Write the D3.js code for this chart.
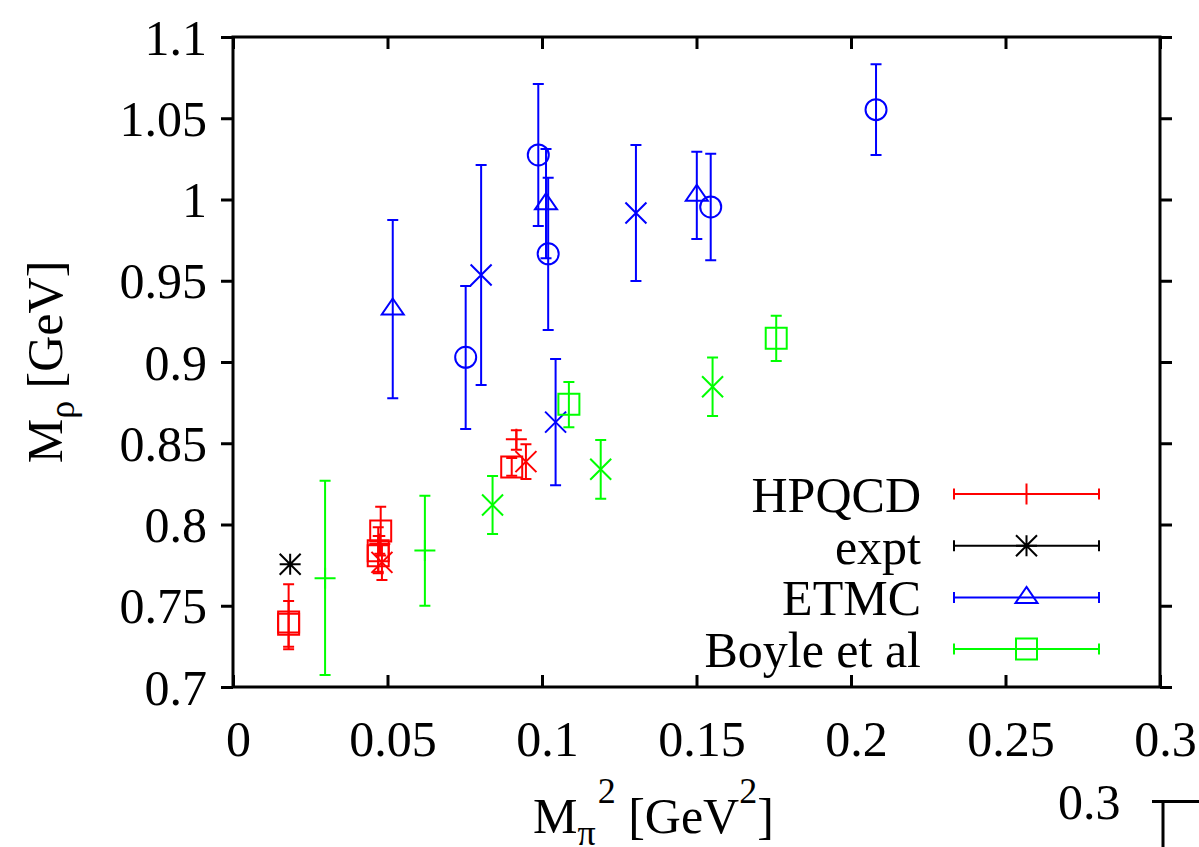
<!DOCTYPE html>
<html><head><meta charset="utf-8">
<script src="https://cdn.jsdelivr.net/npm/d3@7"></script>
<style>body{margin:0;background:#fff}svg{display:block}</style>
</head><body><svg id="c" width="1199" height="847"></svg>
<script>
const xTicks=[0,0.05,0.1,0.15,0.2,0.25,0.3];
const yTicks=[0.7,0.75,0.8,0.85,0.9,0.95,1,1.05,1.1];
const xTickLabels=["0","0.05","0.1","0.15","0.2","0.25","0.3"];
const yTickLabels=["0.7","0.75","0.8","0.85","0.9","0.95","1","1.05","1.1"];
// each point: [x, y, yLow, yHigh]
const hpqcdPlus=[[0.0475,0.788,0.782,0.793],[0.0917,0.8524,0.846,0.858]];
const hpqcdSquare=[[0.0180,0.7400,0.7248,0.7632],[0.0180,0.7386,0.7232,0.7529],[0.0478,0.7960,0.7810,0.8110],[0.0470,0.7839,0.7710,0.7983],[0.0470,0.7808,0.7700,0.7930],[0.0902,0.8354,0.8300,0.8410]];
const hpqcdCross=[[0.0482,0.7767,0.7658,0.7880],[0.0948,0.8387,0.8280,0.8494]];
const exptStar=[[0.0185,0.7755,0.7755,0.7755]];
const etmcTriangle=[[0.0517,0.9326,0.8777,0.9874],[0.1013,0.9974,0.9638,1.0311],[0.1501,1.0026,0.9757,1.0294]];
const etmcCircle=[[0.0753,0.9029,0.8588,0.9468],[0.0988,1.0274,0.9837,1.0711],[0.1020,0.9666,0.9197,1.0134],[0.1546,0.9954,0.9626,1.0282],[0.2081,1.0553,1.0274,1.0832]];
const etmcCross=[[0.0803,0.9535,0.8858,1.0212],[0.1044,0.8630,0.8241,0.9018],[0.1304,0.9917,0.9498,1.0335]];
const boylePlus=[[0.0298,0.7670,0.7074,0.8270],[0.0621,0.7840,0.7500,0.8177]];
const boyleCross=[[0.0840,0.8120,0.7942,0.8298],[0.1190,0.8340,0.8159,0.8520],[0.1552,0.8848,0.8668,0.9027]];
const boyleSquare=[[0.1087,0.8740,0.8598,0.8877],[0.1758,0.9146,0.9006,0.9285]];
const legendLabels=["HPQCD","expt","ETMC","Boyle et al"];
const legendColors=["#ff0000","#000000","#0000ff","#00ff00"];
const legendShapes=["plus","star","triangle","square"];

const svg=d3.select("#c");
const FONT="'Liberation Serif','Times New Roman',serif";
const x=d3.scaleLinear().domain([0,0.3]).range([233,1160]);
const y=d3.scaleLinear().domain([0.7,1.1]).range([687,37]);

svg.append("rect").attr("width",1199).attr("height",847).attr("fill","#fff");

function styleAxis(g){
  g.select(".domain").remove();
  g.selectAll("line").attr("stroke","#000").attr("stroke-width",3);
  g.selectAll("text").attr("font-family",FONT).attr("font-size",50).attr("fill","#000");
}
// bottom axis (ticks inward)
const gb=svg.append("g").attr("transform","translate(0,687)")
  .call(d3.axisBottom(x).tickValues(xTicks).tickFormat((d,i)=>xTickLabels[i]).tickSize(12));
styleAxis(gb);
gb.selectAll("line").attr("y2",-12);
gb.selectAll("text").attr("y",69).attr("dy",0).attr("dx",5);
// top axis (ticks inward, no labels)
const gt=svg.append("g").attr("transform","translate(0,37)")
  .call(d3.axisTop(x).tickValues(xTicks).tickFormat("").tickSize(12));
styleAxis(gt);
gt.selectAll("line").attr("y2",12);
// left axis (outward)
const gl=svg.append("g").attr("transform","translate(233,0)")
  .call(d3.axisLeft(y).tickValues(yTicks).tickFormat((d,i)=>yTickLabels[i]).tickSize(12).tickPadding(14));
styleAxis(gl);
gl.selectAll("text").attr("dy","0.34em");
// right axis (outward)
const gr=svg.append("g").attr("transform","translate(1160,0)")
  .call(d3.axisRight(y).tickValues(yTicks).tickFormat("").tickSize(12));
styleAxis(gr);
// frame
svg.append("rect").attr("x",233).attr("y",37).attr("width",927).attr("height",650)
  .attr("fill","none").attr("stroke","#000").attr("stroke-width",3);

// marker paths
const R=10.5;
function markerPath(shape,cx,cy){
  switch(shape){
    case "plus": return `M${cx-R},${cy}H${cx+R}M${cx},${cy-R}V${cy+R}`;
    case "cross": return `M${cx-R},${cy-R}L${cx+R},${cy+R}M${cx-R},${cy+R}L${cx+R},${cy-R}`;
    case "star": return `M${cx-R},${cy}H${cx+R}M${cx},${cy-R}V${cy+R}M${cx-R},${cy-R}L${cx+R},${cy+R}M${cx-R},${cy+R}L${cx+R},${cy-R}`;
    case "square": return `M${cx-R},${cy-R}H${cx+R}V${cy+R}H${cx-R}Z`;
    case "triangle": return `M${cx},${cy-10.5}L${cx+11},${cy+5.5}H${cx-11}Z`;
    case "circle": return `M${cx+R},${cy}A${R},${R} 0 1,1 ${cx-R},${cy}A${R},${R} 0 1,1 ${cx+R},${cy}`;
  }
}
const CAP=5.5;
function drawSeries(data,shape,color){
  const g=svg.append("g").attr("stroke",color).attr("stroke-width",2).attr("fill","none");
  data.forEach(d=>{
    const cx=x(d[0]),cy=y(d[1]),yl=y(d[2]),yh=y(d[3]);
    if(d[2]!==d[3]){
      g.append("path").attr("d",`M${cx},${yl}V${yh}M${cx-CAP},${yl}H${cx+CAP}M${cx-CAP},${yh}H${cx+CAP}`);
    }
    g.append("path").attr("d",markerPath(shape,cx,cy));
  });
}
drawSeries(hpqcdSquare,"square","#ff0000");
drawSeries(hpqcdPlus,"plus","#ff0000");
drawSeries(hpqcdCross,"cross","#ff0000");
drawSeries(exptStar,"star","#000000");
drawSeries(etmcTriangle,"triangle","#0000ff");
drawSeries(etmcCircle,"circle","#0000ff");
drawSeries(etmcCross,"cross","#0000ff");
drawSeries(boylePlus,"plus","#00ff00");
drawSeries(boyleCross,"cross","#00ff00");
drawSeries(boyleSquare,"square","#00ff00");

// legend
legendLabels.forEach((lab,i)=>{
  const ly=494+i*51.7;
  svg.append("text").attr("x",921).attr("y",ly+18).attr("text-anchor","end")
    .attr("font-family",FONT).attr("font-size",50).attr("fill","#000").text(lab);
  const g=svg.append("g").attr("stroke",legendColors[i]).attr("stroke-width",2).attr("fill","none");
  g.append("path").attr("d",`M954,${ly}H1099M954,${ly-5.5}V${ly+5.5}M1099,${ly-5.5}V${ly+5.5}`);
  g.append("path").attr("d",markerPath(legendShapes[i],1026.5,ly));
});

// axis titles
const xt=svg.append("text").attr("x",533).attr("y",833).attr("font-family",FONT).attr("font-size",50).attr("fill","#000");
xt.append("tspan").text("M");
xt.append("tspan").attr("font-size",36).attr("dy",12).text("π");
xt.append("tspan").attr("font-size",36).attr("dy",-42).attr("dx",2).text("2");
xt.append("tspan").attr("dy",30).text(" [GeV");
xt.append("tspan").attr("font-size",36).attr("dy",-30).text("2");
xt.append("tspan").attr("dy",30).text("]");

const yt=svg.append("text").attr("transform","translate(62,362) rotate(-90)").attr("text-anchor","middle")
  .attr("font-family",FONT).attr("font-size",50).attr("fill","#000");
yt.append("tspan").text("M");
yt.append("tspan").attr("font-size",36).attr("dy",12).text("ρ");
yt.append("tspan").attr("dy",-12).text(" [GeV]");

// stray fragment at lower right
svg.append("text").attr("x",1058).attr("y",819).attr("font-family",FONT).attr("font-size",50).attr("fill","#000").text("0.3");
svg.append("path").attr("d","M1152,801.5H1199M1163,801.5V847").attr("stroke","#000").attr("stroke-width",3).attr("fill","none");
</script></body></html>
